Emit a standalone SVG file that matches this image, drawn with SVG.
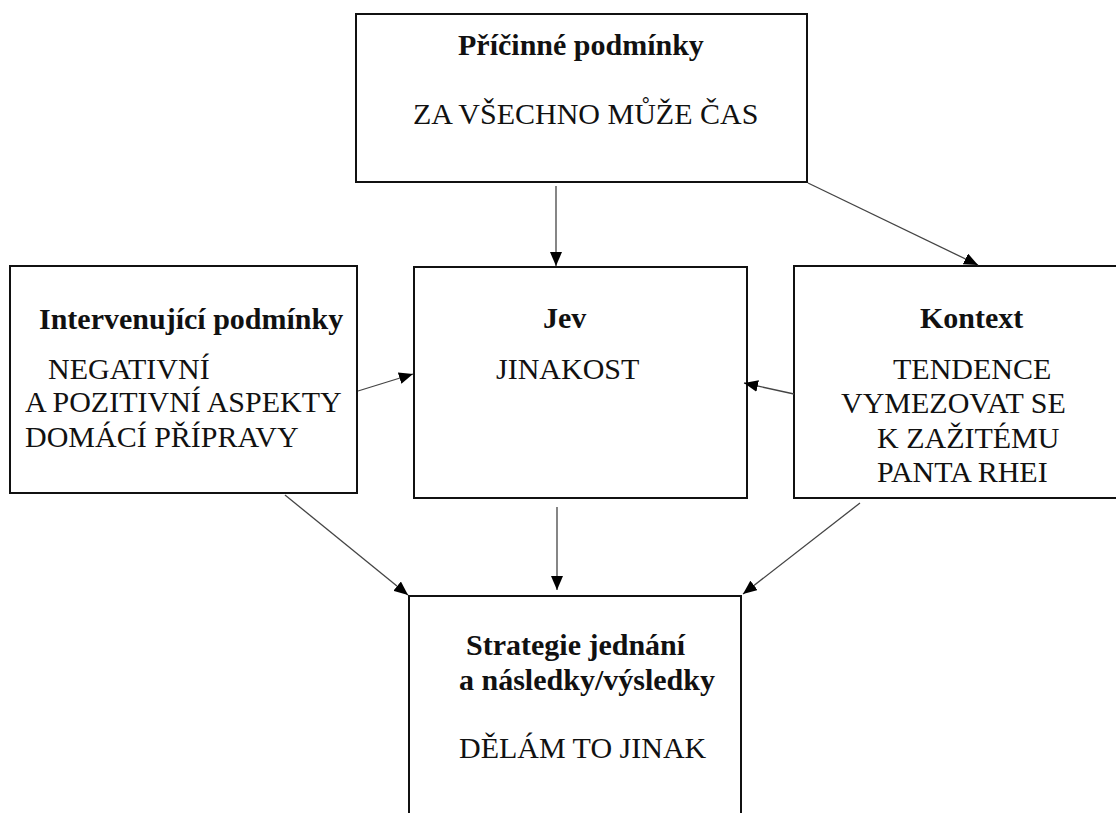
<svg xmlns="http://www.w3.org/2000/svg" width="1116" height="813" viewBox="0 0 1116 813">
<style>
.box{fill:#fff;stroke:#111;stroke-width:2}
.t{font-family:"Liberation Serif","Times New Roman",serif;font-size:30px;fill:#111}
.b{font-weight:bold;font-size:30px}
.c{stroke:#444;stroke-width:1.3;fill:none;marker-end:url(#ah)}
</style>
<defs>
<marker id="ah" viewBox="0 0 14 12" refX="14" refY="6" markerWidth="14" markerHeight="12" orient="auto" markerUnits="userSpaceOnUse">
<path d="M0,0 L14,6 L0,12 z" fill="#000"/>
</marker>
</defs>
<rect width="1116" height="813" fill="#fff"/>
<g id="pricinne">
<rect class="box" x="356" y="14" width="451" height="168"/>
<text class="t b" x="458" y="55">Příčinné podmínky</text>
<text class="t" x="413" y="124">ZA VŠECHNO MŮŽE ČAS</text>
</g>
<g id="intervenujici">
<rect class="box" x="10" y="266" width="347" height="227"/>
<text class="t b" x="39" y="329">Intervenující podmínky</text>
<text class="t" x="48" y="379">NEGATIVNÍ</text>
<text class="t" x="25" y="412">A POZITIVNÍ ASPEKTY</text>
<text class="t" x="25" y="447">DOMÁCÍ PŘÍPRAVY</text>
</g>
<g id="jev">
<rect class="box" x="414" y="267" width="333" height="231"/>
<text class="t b" x="543" y="328">Jev</text>
<text class="t" x="496" y="379">JINAKOST</text>
</g>
<g id="kontext">
<rect class="box" x="794" y="266" width="340" height="232"/>
<text class="t b" x="920" y="328">Kontext</text>
<text class="t" x="893" y="379">TENDENCE</text>
<text class="t" x="841" y="413">VYMEZOVAT SE</text>
<text class="t" x="877" y="448">K ZAŽITÉMU</text>
<text class="t" x="877" y="482">PANTA RHEI</text>
</g>
<g id="strategie">
<rect class="box" x="409" y="596" width="332" height="300"/>
<text class="t b" x="466" y="655">Strategie jednání</text>
<text class="t b" x="459" y="690">a následky/výsledky</text>
<text class="t" x="459" y="758">DĚLÁM TO JINAK</text>
</g>
<g id="connectors">
<line class="c" x1="556" y1="186" x2="556" y2="266"/>
<line class="c" x1="808" y1="183" x2="978" y2="265"/>
<line class="c" x1="358" y1="391" x2="413" y2="374"/>
<line class="c" x1="794" y1="394" x2="744" y2="383"/>
<line class="c" x1="557" y1="507" x2="557" y2="590"/>
<line class="c" x1="285" y1="495" x2="408" y2="595"/>
<line class="c" x1="860" y1="503" x2="743" y2="594"/>
</g>
</svg>
